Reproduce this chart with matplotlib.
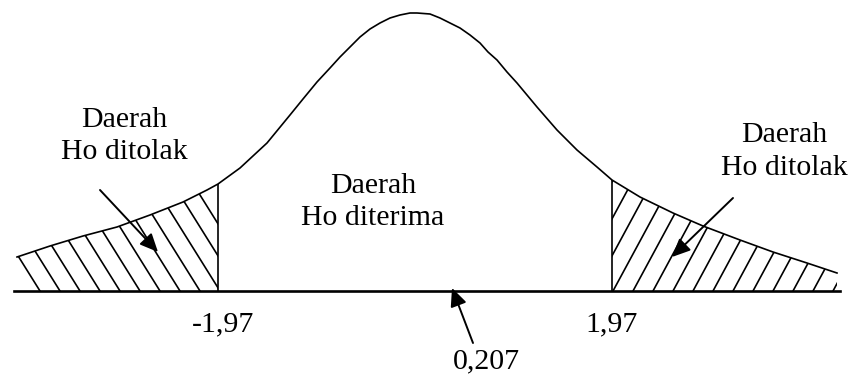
# Kurva uji t dua pihak: daerah Ho diterima / ditolak
import numpy as np
import matplotlib.pyplot as plt
from matplotlib.patches import Polygon

# titik-titik kurva yang dibaca dari gambar (z, tinggi)
z = [-3.98, -3.65, -3.32, -2.98, -2.65, -2.32, -2.08, -1.97, -1.75, -1.48,
     -1.25, -1.12, -0.98, -0.85, -0.75, -0.65, -0.55, -0.45, -0.35, -0.25,
     -0.15, -0.05, 0.02, 0.15, 0.25, 0.35, 0.45, 0.55, 0.65, 0.73,
     0.82, 0.92, 1.02, 1.22, 1.42, 1.62, 1.82, 1.97, 2.25, 2.58,
     2.88, 3.25, 3.58, 3.92, 4.22]
tinggi = [34, 45, 55, 64, 76, 89, 101, 107, 123, 148,
          176, 192, 209, 223, 234, 244, 254, 262, 268, 273,
          276, 278, 278, 277, 273, 268, 263, 256, 248, 239,
          231, 219, 208, 184, 161, 141, 124, 111, 94, 78,
          65, 51, 39, 28, 18]

t_tabel = 1.97
t_hitung = 0.207
label_kiri = 'Daerah\nHo ditolak'
label_tengah = 'Daerah\nHo diterima'
label_kanan = 'Daerah\nHo ditolak'
label_batas = ['-1,97', '1,97']
label_hitung = '0,207'

z = np.array(z)
tinggi = np.array(tinggi)

plt.rcParams['font.family'] = ['Liberation Serif', 'DejaVu Serif']

fig = plt.figure(figsize=(8.63, 3.76), dpi=100)
ax = fig.add_axes([0, 0, 1, 1])
ax.set_xlim(-4.15, 4.48)
ax.set_ylim(-85, 291)
ax.axis('off')

# kurva dan sumbu
ax.plot(z, tinggi, color='black', lw=1.2, solid_joinstyle='round')
ax.plot([z[0] - 0.03, z[-1] + 0.03], [0, 0], color='black', lw=1.9)

# garis batas -1,97 dan 1,97
i_kiri = np.argmin(abs(z + t_tabel))
i_kanan = np.argmin(abs(z - t_tabel))
ax.vlines([z[i_kiri], z[i_kanan]], 0, [tinggi[i_kiri], tinggi[i_kanan]],
          color='black', lw=1.2)

# daerah arsiran (garis miring dipotong oleh poligon ekor)
ekor_kiri = np.column_stack([np.r_[z[:i_kiri + 1], z[i_kiri], z[0]],
                             np.r_[tinggi[:i_kiri + 1], 0, 0]])
ekor_kanan = np.column_stack([np.r_[z[i_kanan:], z[-1], z[i_kanan]],
                              np.r_[tinggi[i_kanan:], 0, 0]])
for xy, arah, mulai, akhir in [(ekor_kiri, -1.6, -1.55, -3.9),
                               (ekor_kanan, 1.85, 1.38, 4.5)]:
    poly = Polygon(xy, closed=True, facecolor='none', edgecolor='none')
    ax.add_patch(poly)
    langkah = 0.2 if akhir > mulai else -0.2
    for xb in np.arange(mulai, akhir, langkah):
        dz = 300 / abs(arah) / 100 * np.sign(arah)
        ln, = ax.plot([xb, xb + dz], [0, 300], color='black', lw=1.2)
        ln.set_clip_path(poly)

# teks
ax.text(-2.91, 184, label_kiri, ha='center', va='top', fontsize=21.5,
        linespacing=1.3)
ax.text(-0.42, 118, label_tengah, ha='center', va='top', fontsize=21.5,
        linespacing=1.3)
ax.text(3.69, 169, label_kanan, ha='center', va='top', fontsize=21.5,
        linespacing=1.37)
ax.text(-t_tabel + 0.05, -20, label_batas[0], ha='center', va='top', fontsize=21.5)
ax.text(t_tabel, -20, label_batas[1], ha='center', va='top', fontsize=21.5)
ax.text(0.71, -57, label_hitung, ha='center', va='top', fontsize=21.5)

# panah
panah = dict(arrowstyle='-|>,head_length=0.55,head_width=0.25', color='black',
             lw=1.4, shrinkA=0, shrinkB=0, mutation_scale=20)
ax.annotate('', xy=(-2.57, 39), xytext=(-3.15, 101), arrowprops=panah)
ax.annotate('', xy=(2.57, 34), xytext=(3.18, 93), arrowprops=panah)
# panah t hitung (gambar aslinya tidak berskala)
ax.annotate('', xy=(0.37, 3), xytext=(0.58, -52), arrowprops=panah)

fig.savefig('out.png', dpi=100, facecolor='white')
